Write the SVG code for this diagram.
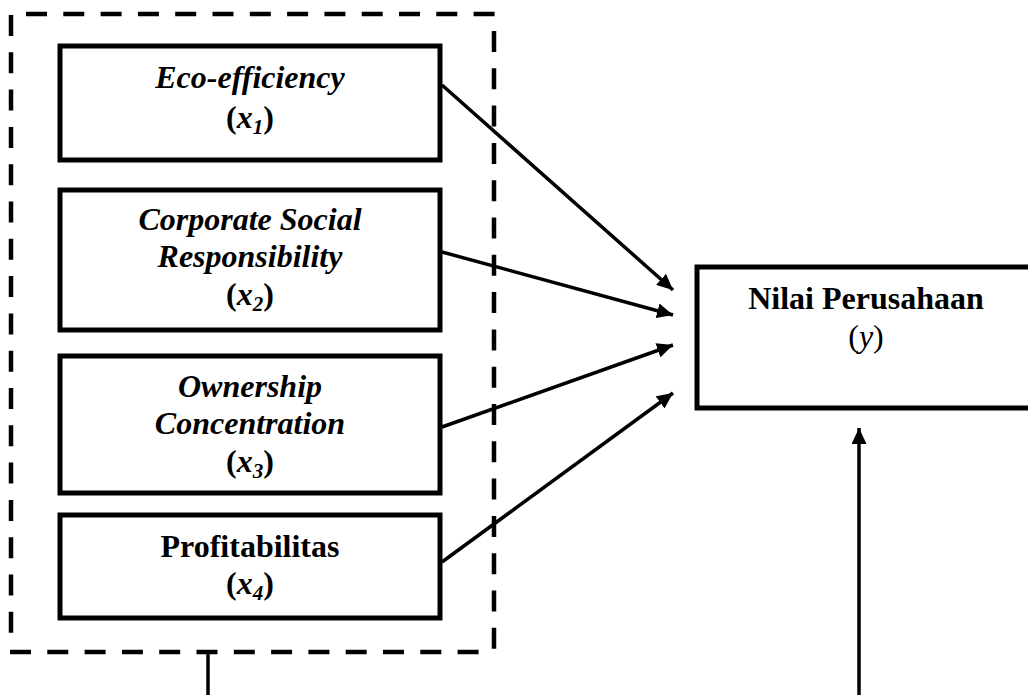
<svg xmlns="http://www.w3.org/2000/svg" width="1028" height="695" viewBox="0 0 1028 695">
<style>
.box{fill:#fff;stroke:#000;stroke-width:5}
.frame{fill:none;stroke:#000;stroke-width:4.5;stroke-dasharray:21 16.3}
text{font-family:'Liberation Serif','Times New Roman','DejaVu Serif',serif;font-size:32px;text-anchor:middle;fill:#000}
.bi{font-weight:bold;font-style:italic}
.b{font-weight:bold}
.conn{stroke:#000;stroke-width:3.5;fill:none}
</style>
<defs>
<marker id="ah" markerUnits="userSpaceOnUse" viewBox="0 0 16 15" refX="16" refY="7.5" markerWidth="16" markerHeight="15" orient="auto">
<path d="M0,0 L16,7.5 L0,15 z" fill="#000"/>
</marker>
</defs>
<rect width="1028" height="695" fill="#fff"/>
<g id="frame">
<line class="frame" x1="26" y1="14" x2="498" y2="14"/>
<line class="frame" x1="11" y1="15" x2="11" y2="640"/>
<line class="frame" x1="10" y1="652" x2="482" y2="652"/>
<line class="frame" x1="494" y1="31" x2="494" y2="650"/>
</g>
<g id="node-x1">
<rect class="box" x="60" y="46" width="380" height="114"/>
<text class="bi" x="250" y="88">Eco-efficiency</text>
<text class="b" x="250" y="128">(<tspan class="bi">x</tspan><tspan class="bi" font-size="21" dy="6">1</tspan><tspan dy="-6">)</tspan></text>
</g>
<g id="node-x2">
<rect class="box" x="60" y="190" width="380" height="140"/>
<text class="bi" x="250" y="230">Corporate Social</text>
<text class="bi" x="250" y="267">Responsibility</text>
<text class="b" x="250" y="305">(<tspan class="bi">x</tspan><tspan class="bi" font-size="21" dy="6">2</tspan><tspan dy="-6">)</tspan></text>
</g>
<g id="node-x3">
<rect class="box" x="60" y="356" width="380" height="137"/>
<text class="bi" x="250" y="397">Ownership</text>
<text class="bi" x="250" y="434">Concentration</text>
<text class="b" x="250" y="472">(<tspan class="bi">x</tspan><tspan class="bi" font-size="21" dy="6">3</tspan><tspan dy="-6">)</tspan></text>
</g>
<g id="node-x4">
<rect class="box" x="60" y="515" width="380" height="103"/>
<text class="b" x="250" y="557">Profitabilitas</text>
<text class="b" x="250" y="594">(<tspan class="bi">x</tspan><tspan class="bi" font-size="21" dy="6">4</tspan><tspan dy="-6">)</tspan></text>
</g>
<g id="node-y">
<rect class="box" x="697" y="267" width="345" height="141"/>
<text class="b" x="866" y="309">Nilai Perusahaan</text>
<text x="866" y="347">(<tspan font-style="italic">y</tspan>)</text>
</g>
<g id="connectors">
<line class="conn" x1="442" y1="85" x2="673" y2="290" marker-end="url(#ah)"/>
<line class="conn" x1="442" y1="252" x2="673" y2="315" marker-end="url(#ah)"/>
<line class="conn" x1="442" y1="427" x2="673" y2="345" marker-end="url(#ah)"/>
<line class="conn" x1="442" y1="562" x2="673" y2="393" marker-end="url(#ah)"/>
<line class="conn" x1="208" y1="652" x2="208" y2="695"/>
<line class="conn" x1="859" y1="695" x2="859" y2="428" marker-end="url(#ah)"/>
</g>
</svg>
